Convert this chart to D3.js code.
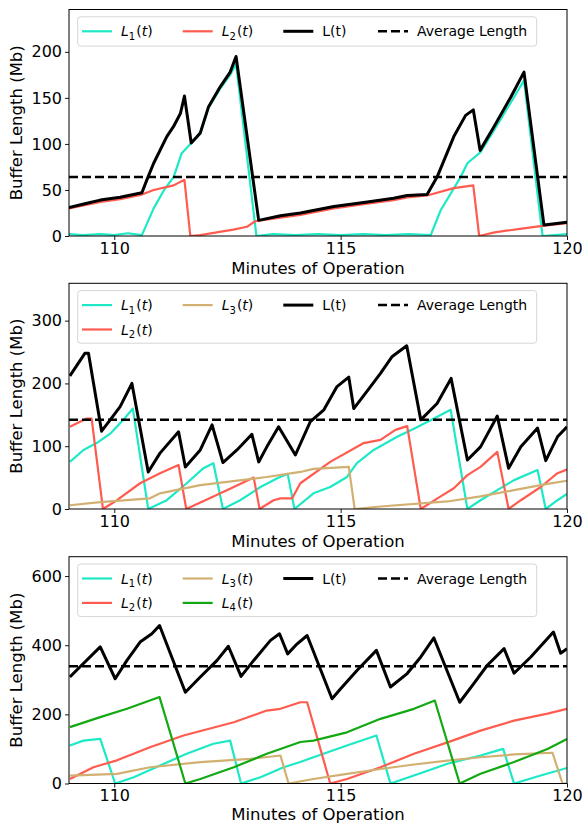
<!DOCTYPE html>
<html>
<head>
<meta charset="utf-8">
<script src="https://cdn.jsdelivr.net/npm/d3@7"></script>
<style>
body { margin: 0; background: #fff; }
svg { display: block; font-family: "DejaVu Sans", sans-serif; }
</style>
</head>
<body>
<div id="root"></div>
<script>
// minutes shown on the x axis
const xDomain = [109, 120]
const xTicks = [110, 115, 120]

// ---- panel 1: two buffers ----
const p1_L1 = [[109.0,2],[109.3,1],[109.7,2],[110.0,1],[110.3,3],[110.61,1],[110.87,30],[111.1,50],[111.31,64],
    [111.49,90],[111.68,100],[111.9,111],[112.08,139],[112.34,160],[112.56,175],[112.69,187],[113.14,0],
    [113.5,2],[114.0,1],[114.5,2],[115.0,1],[115.5,2],[116.0,1],[116.5,2],[116.99,1],[117.21,28],[117.65,64],
    [117.8,79],[118.09,91],[118.39,115],[118.76,145],[119.05,169],[119.46,0],[120.0,2]]
const p1_L2 = [[109.0,30],[109.7,37],[110.13,40],[110.61,45],[110.87,50],[111.31,55],[111.55,61],[111.68,0],
    [111.9,1],[112.63,7],[112.93,10],[113.11,16],[113.67,20],[114.11,23],[114.85,30],[115.59,35],[116.17,39],
    [116.47,42],[116.91,44],[117.5,52],[117.93,55],[118.06,0],[118.4,4],[119.0,8],[119.46,11],[120.0,14]]
const p1_L = [[109.0,31],[109.35,35],[109.69,39],[110.13,42],[110.61,47],[110.72,61],[110.87,79],[111.16,108],
    [111.31,119],[111.46,133],[111.55,152],[111.7,101],[111.9,112],[112.08,140],[112.34,162],[112.56,178],
    [112.69,195],[113.19,17],[113.67,22],[114.11,25],[114.85,32],[115.59,37],[116.17,41],[116.47,44],
    [116.91,45],[117.13,64],[117.5,108],[117.76,131],[117.93,137],[118.08,93],[118.39,119],[118.76,151],
    [119.05,178],[119.49,12],[120.0,15]]
const p1_avg = 64

// ---- panel 2: three buffers ----
const p2_L1 = [[109.02,75],[109.32,94],[109.61,105],[109.91,120],[110.2,142],[110.41,160],[110.75,0],[111.16,14],
    [111.6,41],[111.97,65],[112.19,73],[112.4,0],[112.78,14],[113.23,35],[113.6,49],[113.83,56],[113.98,0],
    [114.4,25],[114.77,35],[115.14,51],[115.36,73],[115.73,94],[116.25,115],[116.62,128],[117.06,144],
    [117.43,158],[117.8,0],[118.09,14],[118.46,30],[118.83,46],[119.35,62],[119.53,0],[119.79,14],[120.0,24]]
const p2_L2 = [[109.02,131],[109.39,144],[109.5,144],[109.75,0],[110.06,14],[110.57,41],[111.01,57],[111.42,70],
    [111.59,0],[112.19,20],[112.64,35],[113.08,50],[113.21,0],[113.52,14],[113.67,17],[113.93,17],[114.11,41],
    [114.77,75],[115.51,105],[115.88,110],[116.21,126],[116.47,132],[116.77,0],[117.21,20],[117.5,33],
    [117.8,54],[118.09,67],[118.46,91],[118.71,0],[118.98,14],[119.42,35],[119.79,57],[120.0,63]]
const p2_L3 = [[109.02,6],[109.69,11],[110.79,17],[111.01,25],[111.9,38],[113.37,51],[114.11,59],[114.4,64],
    [115.18,67],[115.31,0],[115.88,4],[117.36,12],[118.09,20],[118.83,30],[119.57,40],[120.0,45]]
const p2_L = [[109.02,212],[109.35,248],[109.43,248],[109.72,124],[109.91,142],[110.13,163],[110.39,200],
    [110.75,59],[111.01,89],[111.42,123],[111.57,67],[111.9,94],[112.16,134],[112.4,74],[112.71,94],
    [113.04,119],[113.19,75],[113.37,99],[113.63,131],[114.0,86],[114.33,139],[114.63,158],[114.92,195],
    [115.18,210],[115.29,160],[115.66,195],[115.88,216],[116.14,243],[116.46,260],[116.77,142],[117.13,168],
    [117.44,208],[117.8,78],[118.09,99],[118.46,148],[118.71,65],[118.98,99],[119.35,129],[119.53,77],
    [119.79,115],[120.0,131]]
const p2_avg = 142

// ---- panel 3: four buffers ----
const p3_L1 = [[109.02,110],[109.32,124],[109.69,129],[110.02,0],[110.43,18],[111.01,52],[111.6,86],[112.19,115],
    [112.56,124],[112.8,0],[113.23,18],[113.74,47],[114.11,62],[114.4,76],[115.14,110],[115.79,139],[116.1,0],
    [116.62,23],[117.36,57],[118.09,81],[118.59,100],[118.83,0],[119.42,23],[120.0,45]]
const p3_L2 = [[109.02,13],[109.54,47],[110.06,67],[110.79,105],[111.53,139],[112.64,177],[113.37,211],
    [113.67,216],[114.11,235],[114.26,235],[114.77,0],[115.14,13],[115.88,47],[116.62,86],[117.36,119],
    [118.09,153],[118.83,182],[119.57,202],[120.0,216]]
const p3_L3 = [[109.02,23],[110.06,28],[110.79,47],[111.9,62],[113.0,71],[113.67,81],[113.85,0],[114.4,13],
    [115.14,28],[115.88,42],[116.62,55],[117.36,66],[118.09,76],[118.83,84],[119.68,89],[119.9,0],[120.0,0]]
const p3_L4 = [[109.02,163],[109.69,192],[110.28,216],[111.0,250],[111.57,0],[111.9,13],[112.64,47],[113.37,86],
    [113.67,100],[114.11,120],[114.4,124],[115.14,148],[115.88,187],[116.62,216],[117.08,240],[117.63,0],
    [118.09,28],[118.83,62],[119.57,100],[120.0,129]]
const p3_L = [[109.02,308],[109.24,337],[109.69,395],[110.02,303],[110.28,356],[110.57,409],[110.83,433],
    [111.0,457],[111.57,264],[111.9,308],[112.27,356],[112.52,397],[112.8,310],[113.08,356],[113.45,414],
    [113.65,433],[113.83,375],[114.04,404],[114.26,428],[114.81,245],[115.0,274],[115.36,327],[115.79,385],
    [116.1,279],[116.47,318],[116.77,366],[117.06,421],[117.63,235],[117.94,289],[118.24,342],[118.61,390],
    [118.83,319],[119.2,366],[119.7,438],[119.86,377],[120.0,390]]
const p3_avg = 339

const colors = { L1: '#1de9c6', L2: '#ff5b4f', L3: '#d1b071', L4: '#13a913', L: '#000' }

const panels = [
    { top: 9.5, bottom: 236, ymax: 246, yTicks: [0, 50, 100, 150, 200], avg: p1_avg, labelGap: 38,
      series: [['L1', p1_L1], ['L2', p1_L2], ['L', p1_L]],
      legend: [[['L1', 'L_1(t)']], [['L2', 'L_2(t)']], [['L', 'L(t)']], [['avg', 'Average Length']]] },
    { top: 283.3, bottom: 509, ymax: 359.5, yTicks: [0, 100, 200, 300], avg: p2_avg, labelGap: 37.5,
      series: [['L1', p2_L1], ['L2', p2_L2], ['L3', p2_L3], ['L', p2_L]],
      legend: [[['L1', 'L_1(t)'], ['L2', 'L_2(t)']], [['L3', 'L_3(t)']], [['L', 'L(t)']], [['avg', 'Average Length']]] },
    { top: 556.7, bottom: 783.5, ymax: 656, yTicks: [0, 200, 400, 600], avg: p3_avg, labelGap: 36,
      series: [['L1', p3_L1], ['L2', p3_L2], ['L3', p3_L3], ['L4', p3_L4], ['L', p3_L]],
      legend: [[['L1', 'L_1(t)'], ['L2', 'L_2(t)']], [['L3', 'L_3(t)'], ['L4', 'L_4(t)']], [['L', 'L(t)']], [['avg', 'Average Length']]] }
]

const left = 69, right = 567
const legendCols = [82, 182.7, 283.3, 378]

const svg = d3.select('#root').append('svg')
    .attr('width', 582)
    .attr('height', 823)

const x = d3.scaleLinear().domain(xDomain).range([left, right])

// write "L_1(t)" like matplotlib mathtext
const writeLabel = (text, label) => {
    const m = label.match(/^L_(\d)\(t\)$/)
    if (!m) { text.text(label); return }
    text.append('tspan').attr('font-style', 'italic').text('L')
    text.append('tspan').attr('font-size', '10px').attr('dy', 3.5).text(m[1])
    text.append('tspan').attr('dy', -3.5).attr('dx', 1).text('(')
    text.append('tspan').attr('font-style', 'italic').text('t')
    text.append('tspan').text(')')
}

panels.forEach((p, i) => {
    const y = d3.scaleLinear().domain([0, p.ymax]).range([p.bottom, p.top])
    const g = svg.append('g')

    g.append('clipPath').attr('id', 'clip' + i)
        .append('rect')
        .attr('x', left).attr('y', p.top)
        .attr('width', right - left).attr('height', p.bottom - p.top)

    const line = d3.line().x(d => x(d[0])).y(d => y(d[1]))
    const plot = g.append('g').attr('clip-path', `url(#clip${i})`)

    plot.selectAll('.series')
        .data(p.series)
        .enter().append('path')
        .attr('class', 'series')
        .attr('d', d => line(d[1]))
        .attr('fill', 'none')
        .attr('stroke', d => colors[d[0]])
        .attr('stroke-width', d => d[0] == 'L' ? 3 : 2.2)
        .attr('stroke-linejoin', 'round')

    plot.append('path')
        .attr('d', line(xDomain.map(t => [t, p.avg])))
        .attr('fill', 'none')
        .attr('stroke', '#000')
        .attr('stroke-width', 2.5)
        .attr('stroke-dasharray', '9,4')

    // axes
    const xAxis = g.append('g')
        .attr('transform', `translate(0,${p.bottom})`)
        .call(d3.axisBottom(x).tickValues(xTicks).tickSize(4).tickPadding(2.5).tickFormat(d3.format('d')))
    const yAxis = g.append('g')
        .attr('transform', `translate(${left},0)`)
        .call(d3.axisLeft(y).tickValues(p.yTicks).tickSize(4).tickPadding(3).tickFormat(d3.format('d')))
    ;[xAxis, yAxis].forEach(a => {
        a.attr('font-size', '16px').attr('font-family', '"DejaVu Sans", sans-serif')
        a.select('.domain').remove()
        a.selectAll('.tick line').attr('stroke', '#000').attr('stroke-width', 0.9)
        a.selectAll('.tick text').attr('fill', '#000')
    })

    g.append('rect')
        .attr('x', left).attr('y', p.top)
        .attr('width', right - left).attr('height', p.bottom - p.top)
        .attr('fill', 'none').attr('stroke', '#000').attr('stroke-width', 1)

    g.append('text')
        .attr('x', (left + right) / 2).attr('y', p.bottom + p.labelGap)
        .attr('text-anchor', 'middle')
        .attr('font-size', '16.5px')
        .text('Minutes of Operation')

    g.append('text')
        .attr('transform', `translate(22,${(p.top + p.bottom) / 2}) rotate(-90)`)
        .attr('text-anchor', 'middle')
        .attr('font-size', '16.5px')
        .text('Buffer Length (Mb)')

    // legend
    const rows = d3.max(p.legend, c => c.length)
    const lg = g.append('g')
    lg.append('rect')
        .attr('x', 77.7).attr('y', p.top + 7.3)
        .attr('width', 459).attr('height', rows == 1 ? 29.3 : 52.6)
        .attr('rx', 3)
        .attr('fill', '#fff').attr('fill-opacity', 0.8)
        .attr('stroke', '#d6d6d6')
    p.legend.forEach((col, ci) => {
        col.forEach((entry, ri) => {
            const cy = p.top + 21.8 + ri * 24.4
            const hx = legendCols[ci]
            const key = entry[0]
            lg.append('line')
                .attr('x1', hx).attr('x2', hx + 30)
                .attr('y1', cy).attr('y2', cy)
                .attr('stroke', key == 'avg' ? '#000' : colors[key])
                .attr('stroke-width', key == 'L' ? 3 : key == 'avg' ? 2.5 : 2.2)
                .attr('stroke-dasharray', key == 'avg' ? '9,4' : null)
            const t = lg.append('text')
                .attr('x', hx + 39).attr('y', cy + 5)
                .attr('font-size', '14px')
            writeLabel(t, entry[1])
        })
    })
})
</script>
</body>
</html>
